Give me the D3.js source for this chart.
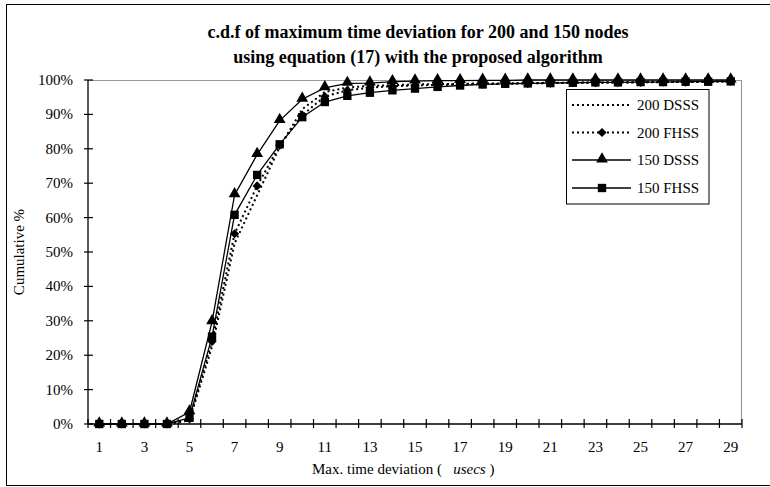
<!DOCTYPE html>
<html><head><meta charset="utf-8">
<script src="https://cdn.jsdelivr.net/npm/d3@7"></script>
<style>body{margin:0;background:#fff}svg{display:block}</style>
</head><body>
<script>
const categories = [1,2,3,4,5,6,7,8,9,10,11,12,13,14,15,16,17,18,19,20,21,22,23,24,25,26,27,28,29];
const xTickLabels = [1,3,5,7,9,11,13,15,17,19,21,23,25,27,29];
const yTicks = [0,10,20,30,40,50,60,70,80,90,100];
const seriesNames = ["200 DSSS","200 FHSS","150 DSSS","150 FHSS"];
const dsss200 = [0,0,0,0,1.0,22.5,52.5,66.5,80.5,91.5,96.5,97.8,98.3,98.5,98.7,98.8,98.9,99.0,99.0,99.1,99.2,99.2,99.3,99.3,99.4,99.4,99.5,99.5,99.6];
const fhss200 = [0,0,0,0,1.5,24.0,55.3,69.2,81.0,89.8,95.2,97.0,97.8,98.2,98.4,98.6,98.7,98.8,98.9,99.0,99.1,99.2,99.2,99.3,99.3,99.4,99.4,99.5,99.6];
const dsss150 = [0,0,0,0,3.5,29.7,66.6,78.3,88.2,94.4,97.7,99.0,99.1,99.5,99.7,99.8,99.8,99.9,99.9,100,100,100,100,100,100,100,100,100,100];
const fhss150 = [0,0,0,0,1.8,25.4,60.8,72.4,81.3,89.2,93.6,95.4,96.3,97.0,97.5,98.0,98.4,98.7,98.9,99.0,99.1,99.2,99.3,99.3,99.4,99.4,99.5,99.5,99.6];

const W = 770, H = 487;
const m = {left: 88, top: 80, right: 742, bottom: 424};
const svg = d3.select("body").append("svg").attr("width", W).attr("height", H);
const font = "'Liberation Serif','Times New Roman',serif";

// outer chart frame
svg.append("rect").attr("x", 6.5).attr("y", 4.5).attr("width", 900).attr("height", 481)
  .attr("fill", "none").attr("stroke", "#000").attr("stroke-width", 1);

const x = d3.scaleBand().domain(categories).range([m.left, m.right]).paddingInner(0).paddingOuter(0);
const y = d3.scaleLinear().domain([0, 100]).range([m.bottom, m.top]);

// plot area border (gray top/right)
svg.append("path").attr("d", `M${m.left},${m.top+0.5}H${m.right-0.5}V${m.bottom}`)
  .attr("fill", "none").attr("stroke", "#999").attr("stroke-width", 1.2);

// title
const title = svg.append("text").attr("x", 418).attr("text-anchor", "middle")
  .attr("font-family", font).attr("font-weight", "bold").attr("font-size", 18).attr("fill", "#000");
title.append("tspan").attr("x", 418).attr("y", 38).text("c.d.f of maximum time deviation for 200 and 150 nodes");
title.append("tspan").attr("x", 418).attr("y", 63).text("using equation (17) with the proposed algorithm");

// y axis
const yAxis = svg.append("g");
yAxis.append("line").attr("x1", m.left).attr("x2", m.left).attr("y1", m.top).attr("y2", m.bottom)
  .attr("stroke", "#000").attr("stroke-width", 1.3);
yAxis.selectAll("line.t").data(yTicks).join("line").attr("class", "t")
  .attr("x1", m.left - 4).attr("x2", m.left + 5)
  .attr("y1", d => y(d)).attr("y2", d => y(d)).attr("stroke", "#000").attr("stroke-width", 1.2);
yAxis.selectAll("text").data(yTicks).join("text")
  .attr("x", 73).attr("y", d => y(d) + 5).attr("text-anchor", "end")
  .attr("font-family", font).attr("font-size", 15).text(d => d + "%");

// x axis
const xAxis = svg.append("g");
xAxis.append("line").attr("x1", m.left).attr("x2", m.right).attr("y1", m.bottom).attr("y2", m.bottom)
  .attr("stroke", "#000").attr("stroke-width", 1.3);
const boundaries = categories.map(c => x(c)).concat([x(categories[categories.length-1]) + x.bandwidth()]);
xAxis.selectAll("line.t").data(boundaries).join("line").attr("class", "t")
  .attr("x1", d => d).attr("x2", d => d).attr("y1", m.bottom - 5).attr("y2", m.bottom + 4)
  .attr("stroke", "#000").attr("stroke-width", 1.2);
xAxis.selectAll("text").data(xTickLabels).join("text")
  .attr("x", d => x(d) + x.bandwidth()/2).attr("y", 452).attr("text-anchor", "middle")
  .attr("font-family", font).attr("font-size", 15).text(d => d);

// axis titles
const xt = svg.append("text").attr("x", 312).attr("y", 474).attr("font-family", font).attr("font-size", 15);
xt.append("tspan").text("Max. time deviation (\u00a0\u00a0\u00a0");
xt.append("tspan").attr("font-style", "italic").text("usecs");
xt.append("tspan").text(" )");
svg.append("text").attr("transform", `translate(24,${(m.top+m.bottom)/2}) rotate(-90)`)
  .attr("text-anchor", "middle").attr("font-family", font).attr("font-size", 15).text("Cumulative %");

// series
const series = [
  {name: seriesNames[0], values: dsss200, dash: "2,3", marker: null},
  {name: seriesNames[1], values: fhss200, dash: "2,3", marker: "diamond"},
  {name: seriesNames[2], values: dsss150, dash: null, marker: "triangle"},
  {name: seriesNames[3], values: fhss150, dash: null, marker: "square"}
];
const cx = c => x(c) + x.bandwidth()/2;
const line = d3.line().x((d, i) => cx(categories[i])).y(d => y(d));
const symType = {diamond: d3.symbolSquare, triangle: d3.symbolTriangle, square: d3.symbolSquare};
const symSize = {diamond: 42, triangle: 60, square: 70};

function drawMarker(g, type, px, py) {
  if (!type) return;
  const rot = type === "diamond" ? " rotate(45)" : "";
  g.append("path").attr("d", d3.symbol().type(symType[type]).size(symSize[type])())
    .attr("transform", `translate(${px},${py + (type === "triangle" ? -1 : 0)})${rot}`).attr("fill", "#000");
}

series.forEach(s => {
  const g = svg.append("g");
  g.append("path").attr("d", line(s.values)).attr("fill", "none").attr("stroke", "#000")
    .attr("stroke-width", s.dash ? 2 : 1.3).attr("stroke-dasharray", s.dash);
  s.values.forEach((v, i) => drawMarker(g, s.marker, cx(categories[i]), y(v)));
});

// legend
const lg = svg.append("g");
lg.append("rect").attr("x", 566.5).attr("y", 89.5).attr("width", 142.5).attr("height", 114.5)
  .attr("fill", "#fff").attr("stroke", "#000").attr("stroke-width", 1);
const legY = [105, 132.5, 160, 188];
series.forEach((s, i) => {
  const g = lg.append("g");
  g.append("line").attr("x1", 572).attr("x2", 631).attr("y1", legY[i]).attr("y2", legY[i])
    .attr("stroke", "#000").attr("stroke-width", s.dash ? 2 : 1.3).attr("stroke-dasharray", s.dash);
  drawMarker(g, s.marker, 602, legY[i]);
  g.append("text").attr("x", 637).attr("y", legY[i] + 5).attr("font-family", font).attr("font-size", 15).text(s.name);
});
</script>
</body></html>
